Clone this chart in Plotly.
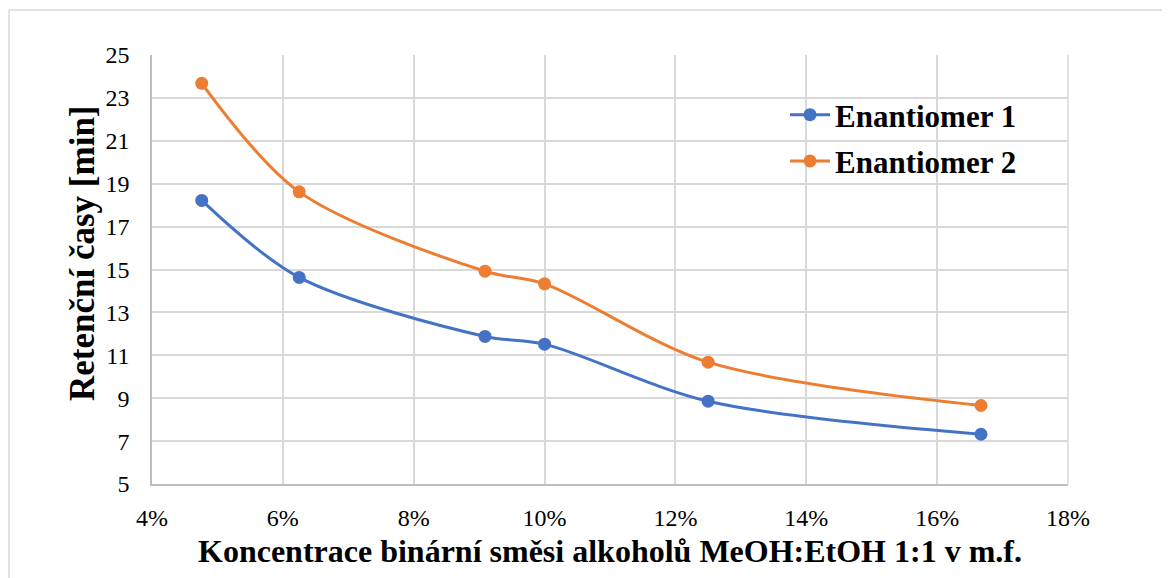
import plotly.graph_objects as go

x_vals = [4.76, 6.25, 9.09, 10.0, 12.5, 16.67]
enantiomer1 = [18.22, 14.63, 11.88, 11.52, 8.86, 7.32]
enantiomer2 = [23.68, 18.62, 14.92, 14.33, 10.68, 8.66]
series_names = ["Enantiomer 1", "Enantiomer 2"]
colors = ["#4472C4", "#ED7D31"]
x_ticks = [4, 6, 8, 10, 12, 14, 16, 18]
y_ticks = [5, 7, 9, 11, 13, 15, 17, 19, 21, 23, 25]
x_title = "Koncentrace binární směsi alkoholů MeOH:EtOH 1:1 v m.f."
y_title = "Retenční časy [min]"

font = "Liberation Serif, Times New Roman, serif"

fig = go.Figure()
for i, (name, ys, c) in enumerate(zip(series_names, [enantiomer1, enantiomer2], colors)):
    fig.add_trace(go.Scatter(
        x=x_vals, y=ys, name=name, mode="lines+markers", legendgroup=f"g{i}",
        line=dict(color=c, width=3, shape="spline", smoothing=0.9),
        marker=dict(color=c, size=13),
    ))

# figure-internal pixel geometry (page has an 8px body margin)
W, H = 1162, 570
L, T = 144, 47
R = W - 1060
B = H - 476
pw, ph = W - L - R, H - T - B

def px(xp):
    return (xp - L) / pw

def py(yp):
    return (H - B - yp) / ph

fig.update_layout(
    width=W, height=H,
    margin=dict(l=L, r=R, t=T, b=B),
    paper_bgcolor="white", plot_bgcolor="white",
    font=dict(family=font, color="black"),
    showlegend=True,
    legend=dict(
        x=px(777), y=py(80), xanchor="left", yanchor="top",
        font=dict(family=font, size=31, color="black", weight="bold"),
        bgcolor="rgba(0,0,0,0)", itemwidth=40, tracegroupgap=3,
    ),
    xaxis=dict(
        range=[4, 18], tickvals=x_ticks,
        ticktext=[f"{v}%" for v in x_ticks],
        showgrid=True, gridcolor="#D9D9D9", gridwidth=1.5,
        showline=True, linecolor="#BFBFBF", linewidth=1.5,
        zeroline=False, ticks="", ticklabelstandoff=11,
        tickfont=dict(family=font, size=24, color="black"),
        title=dict(text=f"<b>{x_title}</b>",
                   font=dict(family=font, size=32, color="black"), standoff=10),
    ),
    yaxis=dict(
        range=[5, 25], tickvals=y_ticks,
        showgrid=True, gridcolor="#D9D9D9", gridwidth=1.5,
        showline=True, linecolor="#BFBFBF", linewidth=1.5,
        zeroline=False, ticks="", ticklabelstandoff=16,
        tickfont=dict(family=font, size=24, color="black"),
    ),
    annotations=[
        dict(text=f"<b>{y_title}</b>", xref="paper", yref="paper",
             x=px(74), y=py(245), xanchor="center", yanchor="middle",
             textangle=-90, showarrow=False,
             font=dict(family=font, size=35, color="black")),
    ],
    shapes=[
        dict(type="line", xref="paper", yref="paper",
             x0=px(1), x1=px(W), y0=py(2), y1=py(2),
             line=dict(color="#D9D9D9", width=1.5)),
        dict(type="line", xref="paper", yref="paper",
             x0=px(1), x1=px(1), y0=py(2), y1=py(H),
             line=dict(color="#D9D9D9", width=1.5)),
        dict(type="line", xref="paper", yref="paper",
             x0=1, x1=1, y0=0, y1=1,
             line=dict(color="#D9D9D9", width=1.5)),
    ],
)

fig.write_html("out.html")
